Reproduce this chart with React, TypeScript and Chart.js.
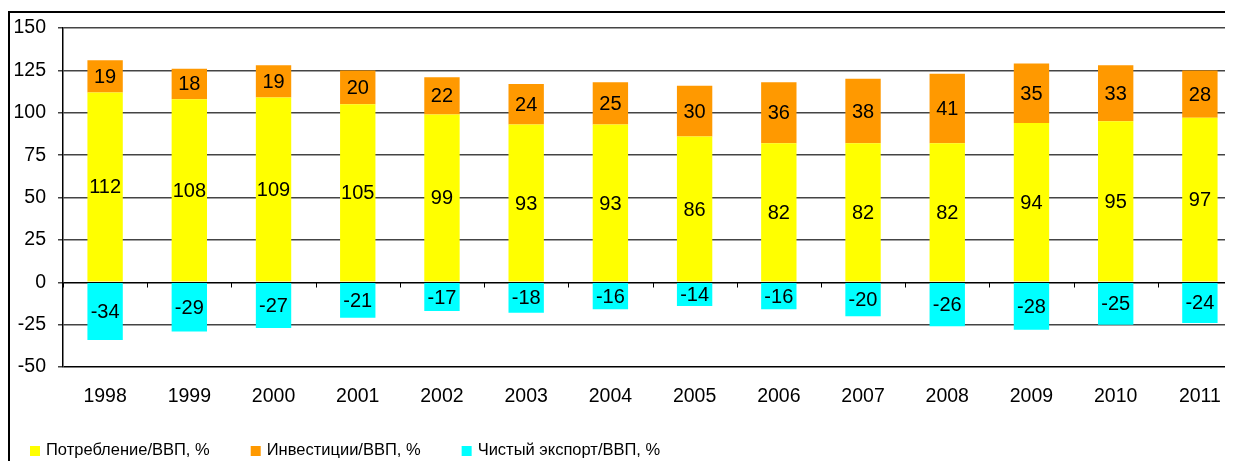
import { useEffect, useRef } from "react";
import { Chart, registerables } from "chart.js";

Chart.register(...registerables);

// Структура ВВП по годам, % к ВВП
const years = ["1998", "1999", "2000", "2001", "2002", "2003", "2004", "2005", "2006", "2007", "2008", "2009", "2010", "2011"];
const consumption = [112, 108, 109, 105, 99, 93, 93, 86, 82, 82, 82, 94, 95, 97];
const investment = [19, 18, 19, 20, 22, 24, 25, 30, 36, 38, 41, 35, 33, 28];
const netExports = [-34, -29, -27, -21, -17, -18, -16, -14, -16, -20, -26, -28, -25, -24];

const seriesLabels = ["Потребление/ВВП, %", "Инвестиции/ВВП, %", "Чистый экспорт/ВВП, %"];
const seriesColors = ["#FFFF00", "#FF9900", "#00FFFF"];

const yMin = -50;
const yMax = 150;
const yStep = 25;

const FONT = "'Liberation Sans', Arial, sans-serif";

// Подписи значений в центре каждого сегмента столбца
const valueLabels = {
  id: "valueLabels",
  afterDatasetsDraw(chart: any) {
    const ctx = chart.ctx;
    ctx.save();
    ctx.font = `20px ${FONT}`;
    ctx.fillStyle = "#000";
    ctx.textAlign = "center";
    ctx.textBaseline = "middle";
    chart.data.datasets.forEach((ds: any, i: number) => {
      const meta = chart.getDatasetMeta(i);
      meta.data.forEach((bar: any, j: number) => {
        const p = bar.getCenterPoint();
        ctx.fillText(String(ds.data[j]), p.x, p.y + 1);
      });
    });
    ctx.restore();
  },
};

// Засечки категорий на нулевой линии
const zeroTicks = {
  id: "zeroTicks",
  afterDatasetsDraw(chart: any) {
    const ctx = chart.ctx;
    const xs = chart.scales.x;
    const ys = chart.scales.y;
    const y0 = Math.round(ys.getPixelForValue(0)) + 0.5;
    ctx.save();
    ctx.strokeStyle = "#000";
    ctx.lineWidth = 1;
    ctx.beginPath();
    const n = chart.data.labels.length;
    for (let i = 0; i <= n; i++) {
      let x;
      if (i === 0) x = xs.left;
      else if (i === n) x = xs.right;
      else x = (xs.getPixelForValue(i - 1) + xs.getPixelForValue(i)) / 2;
      x = Math.round(x) + 0.5;
      ctx.moveTo(x, y0);
      ctx.lineTo(x, y0 + 5);
    }
    ctx.stroke();
    ctx.restore();
  },
};

// Легенда под графиком
const bottomLegend = {
  id: "bottomLegend",
  afterDraw(chart: any) {
    const ctx = chart.ctx;
    ctx.save();
    ctx.font = `16.5px ${FONT}`;
    ctx.textBaseline = "middle";
    ctx.textAlign = "left";
    const cy = chart.chartArea.bottom + 83;
    let x = 20;
    chart.data.datasets.forEach((ds: any) => {
      ctx.fillStyle = ds.backgroundColor;
      ctx.fillRect(x, cy - 4, 10, 10);
      ctx.fillStyle = "#000";
      ctx.fillText(ds.label, x + 16, cy);
      x += 16 + ctx.measureText(ds.label).width + 41;
    });
    ctx.restore();
  },
};

export default function App() {
  const canvasRef = useRef<HTMLCanvasElement | null>(null);

  useEffect(() => {
    if (!canvasRef.current) return;
    const chart = new Chart(canvasRef.current, {
      type: "bar",
      data: {
        labels: years,
        datasets: [
          { label: seriesLabels[0], data: consumption, backgroundColor: seriesColors[0] },
          { label: seriesLabels[1], data: investment, backgroundColor: seriesColors[1] },
          { label: seriesLabels[2], data: netExports, backgroundColor: seriesColors[2] },
        ],
      },
      options: {
        responsive: false,
        animation: false,
        devicePixelRatio: 1,
        layout: { padding: { top: 15, right: 8, bottom: 0, left: 0 } },
        datasets: {
          bar: { barPercentage: 0.42, categoryPercentage: 1, borderWidth: 0 },
        },
        plugins: {
          legend: { display: false },
          tooltip: { enabled: false },
        },
        scales: {
          x: {
            stacked: true,
            grid: { display: false, drawTicks: false },
            border: { display: false },
            ticks: {
              color: "#000",
              font: { family: FONT, size: 19.5 },
              padding: 18,
              maxRotation: 0,
              autoSkip: false,
            },
            afterFit(scale: any) {
              scale.height = 116;
              scale.paddingLeft = 0;
              scale.paddingRight = 0;
            },
          },
          y: {
            stacked: true,
            min: yMin,
            max: yMax,
            ticks: {
              stepSize: yStep,
              color: "#000",
              font: { family: FONT, size: 19.5 },
              padding: 12,
            },
            grid: {
              color: (c: any) => (c.tick && (c.tick.value === 0 || c.tick.value === yMin) ? "#000" : "#444"),
              lineWidth: 1.5,
              tickLength: 5,
              tickColor: "#444",
            },
            border: { display: true, color: "#000", width: 1.5 },
            afterFit(scale: any) {
              scale.width = 53;
              scale.paddingTop = 0;
              scale.paddingBottom = 0;
            },
          },
        },
      },
      plugins: [valueLabels, zeroTicks, bottomLegend],
    });
    return () => chart.destroy();
  }, []);

  return (
    <div style={{ width: 1225, height: 453, overflow: "hidden", paddingTop: 3, boxSizing: "border-box", background: "#fff" }}>
      <div style={{ width: 1300, height: 480, borderLeft: "2px solid #000", borderTop: "2px solid #000", boxSizing: "border-box" }}>
        <canvas ref={canvasRef} width={1240} height={470} style={{ display: "block" }} />
      </div>
    </div>
  );
}
